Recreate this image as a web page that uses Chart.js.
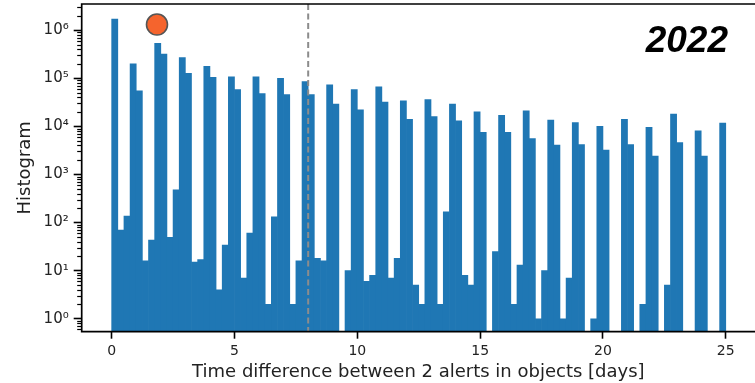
<!DOCTYPE html>
<html><head><meta charset="utf-8">
<script src="https://cdn.jsdelivr.net/npm/chart.js@4/dist/chart.umd.min.js"></script>
<style>html,body{margin:0;padding:0;background:#fff;}#wrap{width:755px;height:383px;}</style>
</head><body><div id="wrap"><canvas id="c" width="755" height="383"></canvas></div>
<script>
// histogram: bins of 0.25 day starting at 0
const binWidth = 0.25;
const counts = [
  1700000, 70, 137, 200000, 55000, 16, 43, 530000, 320000, 49,
  480, 270000, 126000, 15, 17, 176000, 105000, 4, 34, 107000,
  58000, 7, 60, 107000, 48000, 2, 132, 100000, 46000, 2,
  16, 85000, 46000, 18, 16, 73000, 29000, 0, 10, 58000,
  22000, 6, 8, 66000, 32000, 7, 18, 34000, 14000, 5,
  2, 36000, 16000, 2, 167, 29000, 13000, 8, 5, 20000,
  7500, 0, 25, 17000, 7500, 2, 13, 21000, 5600, 1,
  10, 13500, 4100, 1, 7, 12000, 4200, 0, 1, 10000,
  3200, 0, 0, 14000, 4200, 0, 2, 9500, 2400, 0,
  5, 18000, 4600, 0, 0, 8100, 2400, 0, 0, 11700
];
const markerX = [1.845];
const markerY = [1310000];
const cutLineX = 8;
const xTickValues = [0, 5, 10, 15, 20, 25];
const yTickValues = [1, 10, 100, 1000, 10000, 100000, 1000000];
const yTickLabels = ['10⁰', '10¹', '10²', '10³', '10⁴', '10⁵', '10⁶'];
const yearLabel = '2022';
const xTitle = 'Time difference between 2 alerts in objects [days]';
const yTitle = 'Histogram';

const barData = counts.map((c, i) => ({ x: i * binWidth + binWidth / 2, y: c > 0 ? c : null }));
const markerData = markerX.map((x, i) => ({ x: x, y: markerY[i] }));

const decor = {
  id: 'decor',
  afterDatasetsDraw(chart) {
    const ctx = chart.ctx, a = chart.chartArea;
    const xs = chart.scales.x;
    const px = xs.getPixelForValue(cutLineX);
    ctx.save();
    ctx.strokeStyle = '#8c8c8c';
    ctx.lineWidth = 2;
    ctx.setLineDash([6, 3.5]);
    ctx.beginPath(); ctx.moveTo(px, a.top); ctx.lineTo(px, a.bottom); ctx.stroke();
    ctx.restore();
  },
  afterDraw(chart) {
    const ctx = chart.ctx, a = chart.chartArea;
    const ys = chart.scales.y;
    ctx.save();
    ctx.strokeStyle = '#000'; ctx.lineWidth = 1.2;
    for (let k = -1; k <= 6; k++) {
      for (let m = 2; m <= 9; m++) {
        const v = m * Math.pow(10, k);
        if (v < ys.min || v > ys.max) continue;
        const y = Math.round(ys.getPixelForValue(v)) + 0.5;
        ctx.beginPath(); ctx.moveTo(a.left - 4.5, y); ctx.lineTo(a.left, y); ctx.stroke();
      }
    }
    ctx.lineWidth = 1.7; ctx.strokeStyle = '#000';
    ctx.beginPath();
    ctx.moveTo(chart.width + 2, a.top); ctx.lineTo(a.left, a.top);
    ctx.lineTo(a.left, a.bottom); ctx.lineTo(chart.width + 2, a.bottom);
    ctx.stroke();
    ctx.fillStyle = '#000';
    ctx.font = 'italic bold 37px "Liberation Sans", Arial, sans-serif';
    ctx.textAlign = 'right'; ctx.textBaseline = 'alphabetic';
    ctx.fillText(yearLabel, 728, 52);
    ctx.restore();
  }
};

new Chart(document.getElementById('c'), {
  type: 'bar',
  data: {
    datasets: [
      {
        type: 'scatter', data: markerData, pointRadius: 10.5, pointHoverRadius: 10.5,
        backgroundColor: '#f5642d', borderColor: '#555555', borderWidth: 1.6, order: 0
      },
      {
        type: 'bar', data: barData, backgroundColor: '#1f77b4', borderWidth: 0,
        barPercentage: 1, categoryPercentage: 1, order: 1
      }
    ]
  },
  options: {
    responsive: false, animation: false, devicePixelRatio: 1,
    layout: { autoPadding: false, padding: { top: 4, left: 0, right: 0, bottom: 0 } },
    plugins: { legend: { display: false }, tooltip: { enabled: false } },
    scales: {
      x: {
        type: 'linear', min: -1.22, max: 26.19, offset: false,
        grid: { offset: false, drawOnChartArea: false, drawTicks: true, tickLength: 7, tickWidth: 1.6, tickColor: '#000' },
        border: { display: false },
        afterBuildTicks(s) { s.ticks = xTickValues.map(v => ({ value: v })); },
        afterFit(s) { s.height = 51.3; s.paddingLeft = 0; s.paddingRight = 0; },
        ticks: { font: { family: 'DejaVu Sans', size: 14 }, color: '#222', padding: 4, maxRotation: 0, autoSkip: false,
          callback: v => String(v) },
        title: { display: true, text: xTitle, font: { family: 'DejaVu Sans', size: 18 }, color: '#222', padding: { top: 0, bottom: 0 } }
      },
      y: {
        type: 'logarithmic', min: 0.537, max: 3500000,
        grid: { drawOnChartArea: false, drawTicks: true, tickLength: 8, tickWidth: 1.6, tickColor: '#000' },
        border: { display: false },
        afterBuildTicks(s) { s.ticks = yTickValues.map(v => ({ value: v })); },
        afterFit(s) { s.width = 81.7; s.paddingTop = 0; s.paddingBottom = 0; },
        ticks: { font: { family: 'DejaVu Sans', size: 15 }, color: '#222', padding: 5, autoSkip: false,
          callback: (v) => { const i = yTickValues.indexOf(v); return i >= 0 ? yTickLabels[i] : ''; } },
        title: { display: true, text: yTitle, font: { family: 'DejaVu Sans', size: 18 }, color: '#222', padding: { top: 15, bottom: 0 } }
      }
    }
  },
  plugins: [decor]
});
</script>
</body></html>
